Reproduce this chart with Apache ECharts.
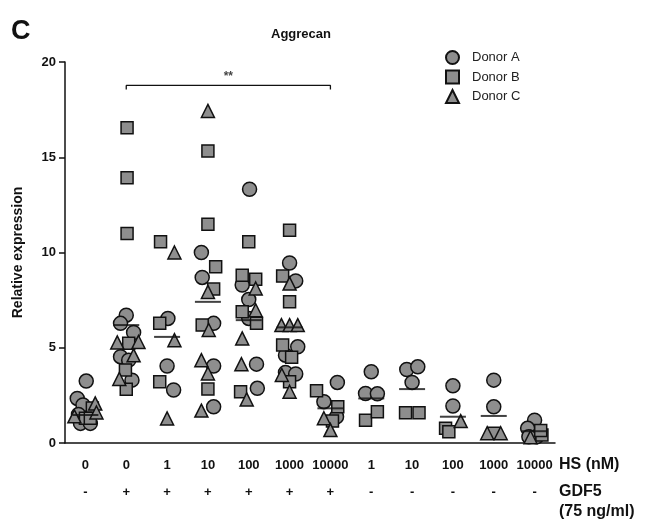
<!DOCTYPE html>
<html>
<head>
<meta charset="utf-8">
<script src="https://cdn.jsdelivr.net/npm/echarts@6/dist/echarts.min.js"></script>
<style>
  html, body { margin: 0; padding: 0; background: #fff; }
  #chart { width: 647px; height: 523px; }
</style>
</head>
<body>
<div id="chart"></div>
<script>
// x labels
const hsDose = ['0', '0', '1', '10', '100', '1000', '10000', '1', '10', '100', '1000', '10000'];
const gdf5 = ['-', '+', '+', '+', '+', '+', '+', '-', '-', '-', '-', '-'];

// points: [group index + jitter, relative expression]
const donorA = [
  [0.02, 3.25], [-0.2, 2.34], [-0.06, 2.0], [-0.17, 1.5], [-0.12, 1.03], [0.12, 1.03],
  [1.0, 6.71], [0.86, 6.28], [1.18, 5.8], [0.86, 4.53], [1.06, 4.35], [1.14, 3.3],
  [2.02, 6.54], [2.0, 4.04], [2.16, 2.78],
  [2.84, 10.0], [2.86, 8.69], [3.14, 6.28], [3.14, 4.04], [3.14, 1.9],
  [4.02, 13.32], [3.84, 8.29], [4.0, 7.53], [4.0, 6.54], [4.19, 4.14], [4.21, 2.87],
  [5.0, 9.45], [5.15, 8.51], [5.2, 5.05], [4.9, 4.61], [4.9, 3.7], [5.15, 3.62],
  [6.17, 3.18], [5.84, 2.17], [6.15, 1.38],
  [7.0, 3.74], [6.86, 2.6], [7.15, 2.58],
  [7.87, 3.86], [8.14, 4.0], [8.0, 3.18],
  [9.0, 3.0], [9.0, 1.94],
  [10.0, 3.3], [10.0, 1.9],
  [11.0, 1.2], [10.83, 0.77], [11.05, 0.33], [10.86, 0.33]
];
const donorB = [
  [0.17, 1.84], [0.0, 1.3], [0.12, 1.3],
  [1.02, 16.55], [1.02, 13.93], [1.02, 11.0], [1.06, 5.23], [0.98, 3.83], [1.0, 2.82],
  [1.84, 10.56], [1.82, 6.28], [1.82, 3.22],
  [3.0, 15.33], [3.0, 11.48], [3.19, 9.25], [3.14, 8.08], [2.86, 6.19], [3.0, 2.83],
  [4.0, 10.56], [3.84, 8.81], [4.17, 8.6], [3.84, 6.89], [4.19, 6.28], [3.8, 2.69],
  [5.0, 11.17], [4.83, 8.76], [5.0, 7.41], [4.83, 5.14], [5.05, 4.5], [5.0, 3.22],
  [5.66, 2.74], [6.18, 1.9], [6.05, 1.15],
  [6.86, 1.2], [7.15, 1.64],
  [7.84, 1.59], [8.17, 1.59],
  [8.82, 0.77], [8.9, 0.59],
  [10.0, 0.51],
  [11.18, 0.42], [11.15, 0.65]
];
const donorC = [
  [0.24, 2.08], [0.27, 1.6], [-0.27, 1.4],
  [0.78, 5.28], [1.3, 5.3], [1.18, 4.6], [0.83, 3.36],
  [2.18, 10.0], [2.18, 5.4], [2.0, 1.29],
  [3.0, 17.43], [3.0, 7.93], [3.02, 5.93], [2.84, 4.35], [3.0, 3.65], [2.84, 1.7],
  [4.17, 8.11], [4.17, 6.97], [3.84, 5.49], [3.82, 4.14], [3.95, 2.29],
  [5.0, 8.37], [4.8, 6.19], [5.0, 6.19], [5.2, 6.19], [4.81, 3.57], [5.0, 2.69],
  [5.84, 1.3], [6.0, 0.68],
  [9.19, 1.15],
  [9.84, 0.51], [10.17, 0.51],
  [10.9, 0.3]
];
const medians = [1.47, 6.19, 5.57, 7.41, 6.45, 6.07, 1.82, 2.34, 2.83, 1.38, 1.42, 0.62];

// significance bracket between GDF5 0 nM and GDF5 + 10000 nM
const bracket = [[1, 18.55], [1, 18.77], [6, 18.77], [6, 18.55]];

const font = 'Liberation Sans, Arial, sans-serif';
const fill = '#8e8e8e';

const chart = echarts.init(document.getElementById('chart'), null, { renderer: 'canvas' });

function donorSeries(name, symbol, size, data) {
  return {
    name: name,
    type: 'scatter',
    xAxisIndex: 2,
    symbol: symbol,
    symbolSize: size,
    data: data,
    itemStyle: { color: fill, borderColor: '#111', borderWidth: 1.5, opacity: 1 },
    emphasis: { disabled: true },
    z: 3
  };
}

chart.setOption({
  animation: false,
  backgroundColor: '#fff',
  textStyle: { fontFamily: font },
  grid: { left: 65, right: 92, top: 62, bottom: 80, containLabel: false, outerBoundsMode: 'none' },
  legend: {
    data: ['Donor A', 'Donor B', 'Donor C'],
    orient: 'vertical',
    left: 445,
    top: 50,
    padding: 0,
    itemWidth: 13,
    itemHeight: 13,
    itemGap: 4.5,
    textStyle: { fontSize: 13, color: '#222', fontFamily: font, padding: [0, 0, 0, 8] }
  },
  xAxis: [
    {
      type: 'category',
      data: hsDose,
      boundaryGap: true,
      axisLine: { lineStyle: { color: '#111', width: 1.5 } },
      axisTick: { alignWithLabel: true, length: 5, lineStyle: { color: '#111', width: 1.5 } },
      axisLabel: { interval: 0, margin: 16, fontSize: 13, fontWeight: 'bold', color: '#111', fontFamily: font }
    },
    {
      type: 'category',
      data: gdf5,
      position: 'bottom',
      offset: 27,
      boundaryGap: true,
      axisLine: { show: false },
      axisTick: { show: false },
      axisLabel: { interval: 0, margin: 16, fontSize: 13, fontWeight: 'bold', color: '#111', fontFamily: font }
    },
    {
      type: 'value',
      min: -0.5,
      max: 11.5,
      show: false
    }
  ],
  yAxis: {
    type: 'value',
    min: 0,
    max: 20,
    interval: 5,
    name: 'Relative expression',
    nameLocation: 'middle',
    nameGap: 40,
    nameTextStyle: { fontSize: 14, fontWeight: 'bold', color: '#111', fontFamily: font },
    axisLine: { show: true, onZero: false, lineStyle: { color: '#111', width: 1.5 } },
    axisTick: { show: true, length: 6, lineStyle: { color: '#111', width: 1.5 } },
    axisLabel: { margin: 9, fontSize: 13, fontWeight: 'bold', color: '#111', fontFamily: font },
    splitLine: { show: false }
  },
  series: [
    donorSeries('Donor A', 'circle', 14, donorA),
    donorSeries('Donor B', 'rect', 12, donorB),
    donorSeries('Donor C', 'triangle', 13, donorC),
    {
      name: 'median',
      type: 'scatter',
      xAxisIndex: 2,
      symbol: 'rect',
      symbolSize: [26, 2],
      data: medians.map((v, i) => [i, v]),
      itemStyle: { color: '#111' },
      emphasis: { disabled: true },
      z: 5
    },
    {
      name: 'bracket',
      type: 'line',
      xAxisIndex: 2,
      data: bracket,
      symbol: 'none',
      lineStyle: { color: '#111', width: 1.3 },
      z: 4
    },
    {
      name: 'stars',
      type: 'scatter',
      xAxisIndex: 2,
      symbolSize: 1,
      data: [[3.5, 18.77]],
      itemStyle: { color: 'transparent' },
      label: { show: true, position: 'top', distance: 2, formatter: '**', fontSize: 12, fontWeight: 'bold', color: '#111' }
    }
  ],
  graphic: [
    { type: 'text', left: 11, top: 18, style: { text: 'C', font: 'bold 27px ' + font, fill: '#111' } },
    { type: 'text', left: 271, top: 28, style: { text: 'Aggrecan', font: 'bold 13px ' + font, fill: '#111' } },
    { type: 'text', left: 559, top: 457, style: { text: 'HS (nM)', font: 'bold 16px ' + font, fill: '#111' } },
    { type: 'text', left: 559, top: 484, style: { text: 'GDF5', font: 'bold 16px ' + font, fill: '#111' } },
    { type: 'text', left: 559, top: 504, style: { text: '(75 ng/ml)', font: 'bold 16px ' + font, fill: '#111' } }
  ]
});
</script>
</body>
</html>
